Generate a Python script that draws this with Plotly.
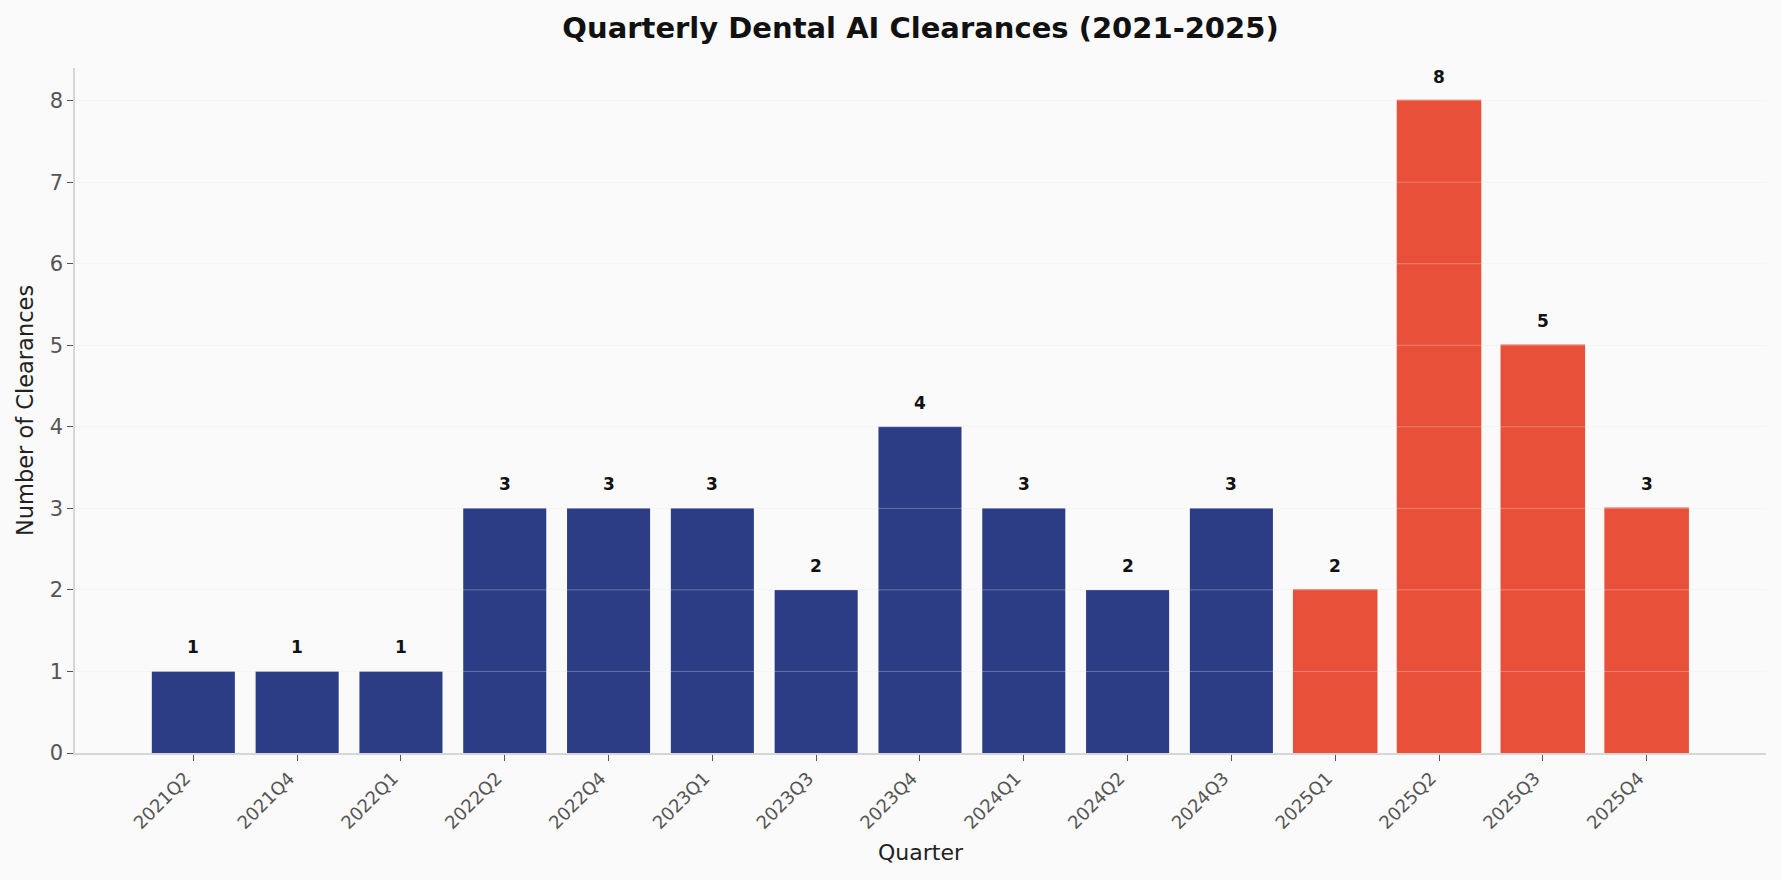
import plotly.graph_objects as go

quarters = ["2021Q2", "2021Q4", "2022Q1", "2022Q2", "2022Q4", "2023Q1", "2023Q3",
            "2023Q4", "2024Q1", "2024Q2", "2024Q3", "2025Q1", "2025Q2", "2025Q3", "2025Q4"]
clearances = [1, 1, 1, 3, 3, 3, 2, 4, 3, 2, 3, 2, 8, 5, 3]
y_ticks = [0, 1, 2, 3, 4, 5, 6, 7, 8]

BLUE = "#2c3d86"
RED = "#e8503a"
colors = [RED if q.startswith("2025") else BLUE for q in quarters]
line_w = [1.5 if q.startswith("2025") else 0 for q in quarters]

fig = go.Figure()
fig.add_trace(go.Bar(
    x=quarters, y=clearances, width=0.8,
    marker=dict(color=colors, line=dict(color=RED, width=line_w)),
    hoverinfo="x+y", showlegend=False,
))

for q, v in zip(quarters, clearances):
    fig.add_annotation(x=q, y=v, text=f"<b>{v}</b>", showarrow=False,
                       yanchor="bottom", yshift=12,
                       font=dict(family="DejaVu Sans", size=17, color="#111111"))

# grid lines drawn over the bars (light, semi-transparent)
for t in y_ticks[1:]:
    fig.add_shape(type="line", xref="paper", x0=0, x1=1, yref="y", y0=t, y1=t,
                  line=dict(color="rgba(255,255,255,0.28)", width=1), layer="above")

fig.update_layout(
    width=1781, height=880,
    paper_bgcolor="#fafafa", plot_bgcolor="#fafafa",
    margin=dict(l=75, r=15, t=68, b=127),
    title=dict(text="<b>Quarterly Dental AI Clearances (2021-2025)</b>",
               x=(75 + (1781 - 15)) / 2 / 1781, xanchor="center", y=1 - 28 / 880, yanchor="middle",
               font=dict(family="DejaVu Sans", size=29, color="#111111")),
    font=dict(family="DejaVu Sans"),
    bargap=0.2,
)

fig.update_xaxes(
    type="category", range=[-1.14, 15.15],
    tickangle=-45, tickfont=dict(size=18, color="#555555"),
    ticklabelshift=-8,
    ticks="outside", ticklen=6, tickcolor="#555555", tickwidth=1.3,
    showline=True, linecolor="#d6d6d6", linewidth=1.5,
    showgrid=False, zeroline=False,
    title=dict(text="Quarter", font=dict(size=22, color="#222222"), standoff=13),
)
fig.update_yaxes(
    range=[0, 8.4], tickvals=y_ticks,
    tickfont=dict(size=21, color="#555555"),
    ticks="outside", ticklen=6, tickcolor="#555555", tickwidth=1.3,
    showline=True, linecolor="#d6d6d6", linewidth=1.5,
    showgrid=True, gridcolor="#f2f2f2", gridwidth=1, zeroline=False,
    title=dict(text="Number of Clearances", font=dict(size=22.5, color="#222222"), standoff=10),
)

fig.write_html("out.html", config={"displayModeBar": False},
               post_script="document.body.style.margin='0';document.body.style.background='#fafafa';")
